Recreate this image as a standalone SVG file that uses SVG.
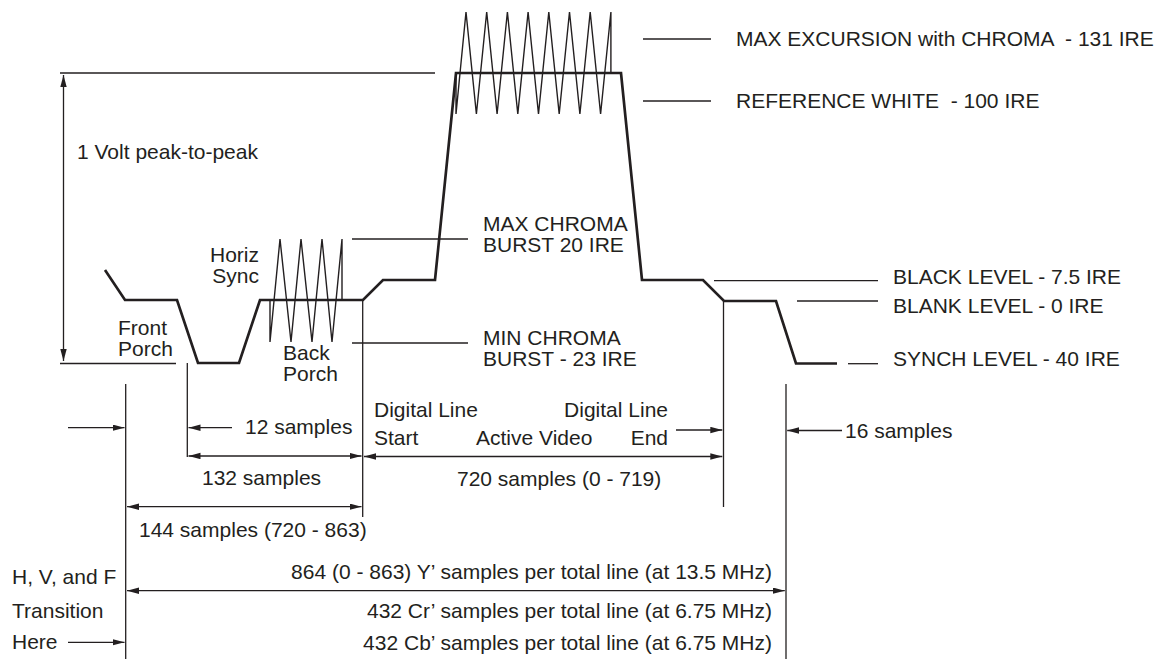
<svg xmlns="http://www.w3.org/2000/svg" width="1163" height="659" viewBox="0 0 1163 659">
<defs>
<style>
.t{font-family:"Liberation Sans",Arial,sans-serif;font-size:21px;fill:#231f20;white-space:pre}
.e{text-anchor:end}
.thin{stroke:#231f20;stroke-width:1.3;fill:none}
.wave{stroke:#231f20;stroke-width:2.7;fill:none;stroke-linejoin:miter}
.zig{stroke:#231f20;stroke-width:1.4;fill:none;stroke-linejoin:miter}
.a{marker-end:url(#ah)}
.aa{marker-end:url(#ah);marker-start:url(#ah)}
</style>
<marker id="ah" markerUnits="userSpaceOnUse" markerWidth="13" markerHeight="7" refX="12" refY="3.2" orient="auto-start-reverse">
<path d="M0,0 L12,3.2 L0,6.4 z" fill="#231f20"/>
</marker>
</defs>
<rect width="1163" height="659" fill="#fff"/>

<g id="waveform">
<polyline class="wave" points="105,270 125,300 177,300 198,363 239,363 260,300 363,300 383,280 435,280 456,73 621,73 642,280 703,280 724,301 776,301 796,363.5 837,363.5"/>
</g>
<g id="chroma-burst">
<polyline class="zig" points="270,300 270,342 280,239 291,342 301,239 312,342 322,239 332,342 342,239 342,300"/>
</g>
<g id="chroma-active">
<polyline class="zig" points="456,73 456,114 466,12 476.4,114 486.7,12 497.1,114 507.4,12 517.8,114 528.1,12 538.5,114 548.8,12 559.2,114 569.5,12 579.9,114 590.2,12 600.6,114 610.9,12 610.9,73"/>
</g>

<g id="connectors">
<line class="thin" x1="60" y1="73" x2="435" y2="73"/>
<line class="thin" x1="60" y1="363.5" x2="176" y2="363.5"/>
<line class="thin aa" x1="63.5" y1="75" x2="63.5" y2="361"/>
<line class="thin" x1="352" y1="239" x2="468" y2="239"/>
<line class="thin" x1="352" y1="343" x2="468" y2="343"/>
<line class="thin" x1="643" y1="39" x2="711" y2="39"/>
<line class="thin" x1="643" y1="101" x2="711" y2="101"/>
<line class="thin" x1="714" y1="280.7" x2="878" y2="280.7"/>
<line class="thin" x1="797" y1="301" x2="878" y2="301"/>
<line class="thin" x1="848" y1="363.7" x2="878" y2="363.7"/>
<line class="thin" x1="187.3" y1="363" x2="187.3" y2="457"/>
<line class="thin" x1="362.7" y1="300" x2="362.7" y2="517"/>
<line class="thin" x1="723.5" y1="301" x2="723.5" y2="507"/>
<line class="thin" x1="125.7" y1="384" x2="125.7" y2="659"/>
<line class="thin" x1="786" y1="384" x2="786" y2="659"/>
<line class="thin a" x1="68" y1="427.7" x2="124.5" y2="427.7"/>
<line class="thin a" x1="232" y1="427.7" x2="188.5" y2="427.7"/>
<line class="thin aa" x1="188.5" y1="456" x2="361.5" y2="456"/>
<line class="thin aa" x1="364" y1="456.5" x2="722.3" y2="456.5"/>
<line class="thin a" x1="676" y1="430" x2="722.3" y2="430"/>
<line class="thin a" x1="842" y1="430.5" x2="787.2" y2="430.5"/>
<line class="thin aa" x1="127" y1="506.7" x2="361.5" y2="506.7"/>
<line class="thin aa" x1="127" y1="590.7" x2="784.8" y2="590.7"/>
<line class="thin a" x1="68" y1="642.3" x2="124.5" y2="642.3"/>
</g>

<g id="labels">
<text class="t" x="77" y="159">1 Volt peak-to-peak</text>
<text class="t e" x="259" y="262">Horiz</text>
<text class="t e" x="259" y="283">Sync</text>
<text class="t" x="118" y="335">Front</text>
<text class="t" x="118" y="356">Porch</text>
<text class="t" x="283" y="360">Back</text>
<text class="t" x="283" y="381">Porch</text>
<text class="t" x="483" y="231">MAX CHROMA</text>
<text class="t" x="483" y="252">BURST 20 IRE</text>
<text class="t" x="483" y="345">MIN CHROMA</text>
<text class="t" x="483" y="366">BURST - 23 IRE</text>
<text class="t" x="736" y="46">MAX EXCURSION with CHROMA  - 131 IRE</text>
<text class="t" x="736" y="108">REFERENCE WHITE  - 100 IRE</text>
<text class="t" x="893" y="283.5">BLACK LEVEL - 7.5 IRE</text>
<text class="t" x="893" y="312.5">BLANK LEVEL - 0 IRE</text>
<text class="t" x="893" y="366">SYNCH LEVEL - 40 IRE</text>
<text class="t" x="245" y="433.5">12 samples</text>
<text class="t" x="374" y="417">Digital Line</text>
<text class="t" x="374" y="445">Start</text>
<text class="t" x="476" y="445">Active Video</text>
<text class="t e" x="668" y="417">Digital Line</text>
<text class="t e" x="668" y="445">End</text>
<text class="t" x="845" y="437.5">16 samples</text>
<text class="t" x="202" y="485">132 samples</text>
<text class="t" x="457" y="486">720 samples (0 - 719)</text>
<text class="t" x="139" y="537">144 samples (720 - 863)</text>
<text class="t e" x="772" y="578.5">864 (0 - 863) Y’ samples per total line (at 13.5 MHz)</text>
<text class="t e" x="772" y="617.5">432 Cr’ samples per total line (at 6.75 MHz)</text>
<text class="t e" x="772" y="649.5">432 Cb’ samples per total line (at 6.75 MHz)</text>
<text class="t" x="12" y="583.5">H, V, and F</text>
<text class="t" x="12" y="617.5">Transition</text>
<text class="t" x="12" y="648.5">Here</text>
</g>
</svg>
